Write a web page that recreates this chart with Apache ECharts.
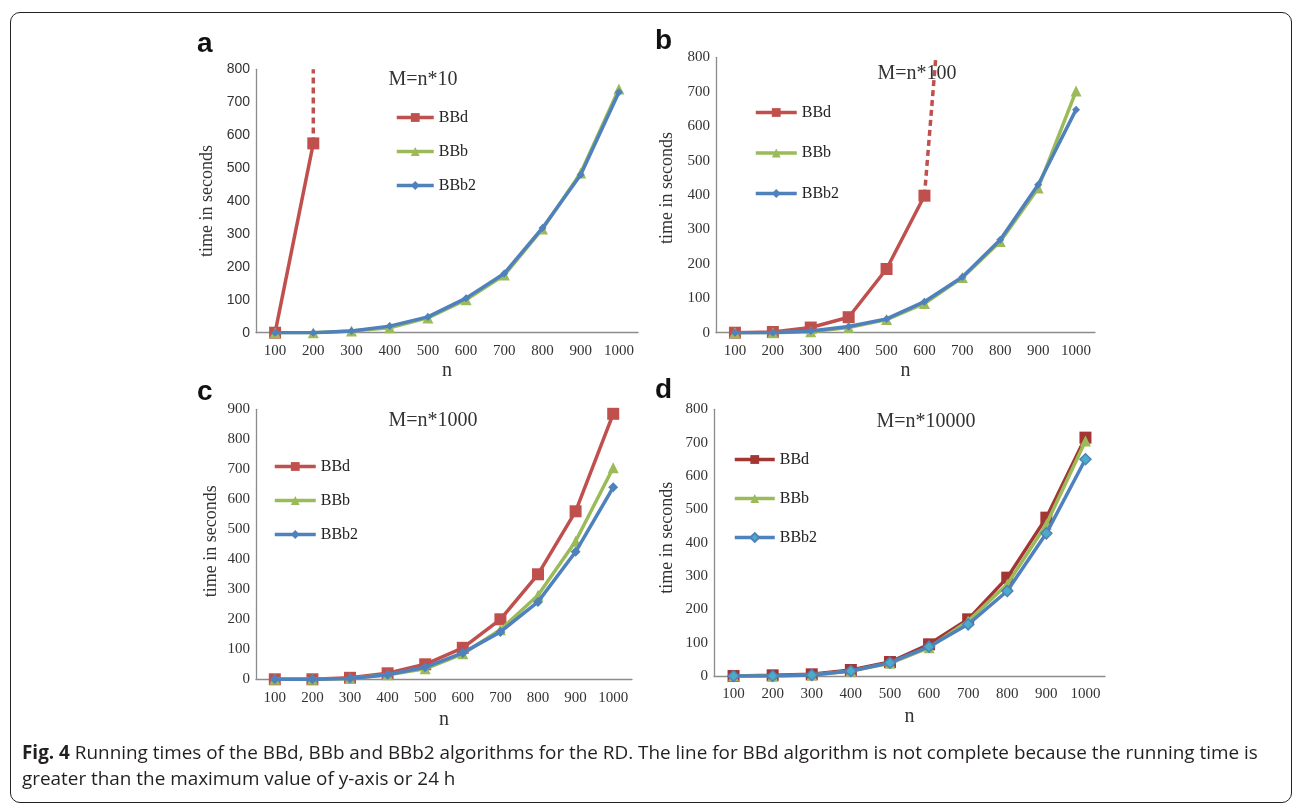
<!DOCTYPE html>
<html>
<head>
<meta charset="utf-8">
<script src="https://cdn.jsdelivr.net/npm/echarts@6/dist/echarts.min.js"></script>
<style>
  html, body { margin: 0; padding: 0; background: #fff; }
  body { width: 1295px; height: 805px; position: relative; overflow: hidden; }
  .panel { position: absolute; left: 0; top: 0; width: 1295px; height: 805px; }
  #frame { position: absolute; left: 10px; top: 12px; width: 1280px; height: 789px; border: 1.5px solid #222; border-radius: 10px; }
  #caption { position: absolute; left: 22px; top: 739px; width: 1262px; font-family: "Open Sans", "Noto Sans", sans-serif; font-size: 18.9px; line-height: 26px; color: #231f20; white-space: nowrap; }
  #caption b { font-weight: 700; }
</style>
</head>
<body>
<div id="frame"></div>
<div id="pa" class="panel"></div>
<div id="pb" class="panel"></div>
<div id="pc" class="panel"></div>
<div id="pd" class="panel"></div>
<div id="caption"><b>Fig. 4</b> Running times of the BBd, BBb and BBb2 algorithms for the RD. The line for BBd algorithm is not complete because the running time is<br>greater than the maximum value of y-axis or 24 h</div>
<script>
// ---- data ----
const nValues = ['100', '200', '300', '400', '500', '600', '700', '800', '900', '1000'];
const seriesNames = ['BBd', 'BBb', 'BBb2'];

// Panel a: M=n*10
const aBBd  = [0, 575, null, null, null, null, null, null, null, null];
const aBBb  = [0, 0, 5, 15, 45, 100, 175, 315, 485, 740];
const aBBb2 = [0, 0, 5, 20, 48, 105, 180, 318, 480, 730];
const aBBdBeyond = [[200, 575], [200, 800]];

// Panel b: M=n*100
const bBBd  = [0, 2, 15, 45, 185, 398, null, null, null, null];
const bBBb  = [0, 0, 3, 15, 38, 85, 160, 265, 420, 702];
const bBBb2 = [0, 0, 5, 18, 40, 90, 162, 270, 430, 648];
const bBBdBeyond = [[600, 398], [630, 800]];

// Panel c: M=n*1000
const cBBd  = [0, 0, 5, 20, 50, 105, 200, 350, 560, 885];
const cBBb  = [0, 0, 3, 15, 35, 85, 165, 280, 460, 705];
const cBBb2 = [0, 0, 3, 15, 40, 88, 158, 258, 425, 640];

// Panel d: M=n*10000
const dBBd  = [0, 2, 5, 18, 42, 95, 170, 295, 475, 715];
const dBBb  = [0, 0, 3, 15, 38, 85, 165, 275, 455, 705];
const dBBb2 = [0, 0, 3, 15, 40, 88, 155, 255, 428, 650];

const panelTitles = ['M=n*10', 'M=n*100', 'M=n*1000', 'M=n*10000'];
const panelLetters = ['a', 'b', 'c', 'd'];
const yMaxes = [800, 800, 900, 800];
const yInterval = 100;

// ---- styles ----
const RED = '#C0504D', RED_D = '#A33532', GREEN = '#9BBB59', BLUE = '#4F81BD', CYAN = '#4BACC6';
const SERIF = '"Liberation Serif", "DejaVu Serif", serif';
const SANS = '"Liberation Sans", Arial, sans-serif';

function build(p) {
  const series = [];
  const styles = [
    { color: p.redColor, symbol: 'rect', size: 12 },
    { color: GREEN, symbol: 'triangle', size: 11 },
    { color: BLUE, symbol: 'diamond', size: p.diamondSize, fill: p.diamondFill }
  ];
  p.data.forEach((d, i) => {
    const s = styles[i];
    series.push({
      name: seriesNames[i], type: 'line', data: d, xAxisIndex: 0, yAxisIndex: 0,
      symbol: s.symbol, symbolSize: s.size, showAllSymbol: true, connectNulls: false,
      lineStyle: { color: s.color, width: 3.5 },
      itemStyle: { color: s.fill || s.color, borderColor: s.color, borderWidth: s.fill ? 1.5 : 0 },
      z: 2 + i, animation: false
    });
  });
  if (p.beyond) {
    series.push({
      name: 'BBd beyond', type: 'line', data: p.beyond, xAxisIndex: 1, yAxisIndex: 0,
      symbol: 'none', lineStyle: { color: RED, width: 3.5, type: [6, 4] }, z: 1, animation: false
    });
  }
  return {
    animation: false,
    title: [
      { text: p.letter, left: p.letterX, top: p.letterY, padding: 0, textStyle: { fontFamily: SANS, fontWeight: 'bold', fontSize: 28, color: '#111' } },
      { text: p.title, left: p.titleX, top: p.titleY, padding: 0, textAlign: 'center', textStyle: { fontFamily: SERIF, fontWeight: 'normal', fontSize: 20, color: '#333' } }
    ],
    legend: {
      data: seriesNames, orient: 'vertical', left: p.legX, top: p.legY, padding: 0,
      itemWidth: p.legW, itemHeight: 11, itemGap: p.legGap, selectedMode: false,
      lineStyle: { width: 3.5 },
      textStyle: { fontFamily: SERIF, fontSize: 16, color: '#222' }
    },
    grid: { left: p.grid[0], top: p.grid[1], width: p.grid[2], height: p.grid[3] },
    xAxis: [
      {
        type: 'category', data: nValues, boundaryGap: true,
        name: 'n', nameLocation: 'middle', nameGap: p.xNameGap,
        nameTextStyle: { fontFamily: SERIF, fontSize: 20, color: '#333' },
        axisLine: { lineStyle: { color: '#8c8c8c', width: 1.3 } }, axisTick: { show: false },
        axisLabel: { fontFamily: SERIF, fontSize: 15, color: '#333', margin: 11, interval: 0 },
        splitLine: { show: false }
      },
      { type: 'value', min: 50, max: 1050, show: false, splitLine: { show: false } }
    ],
    yAxis: {
      type: 'value', min: 0, max: p.yMax, interval: yInterval,
      name: 'time in seconds', nameLocation: 'middle', nameGap: p.yNameGap,
      nameTextStyle: { fontFamily: SERIF, fontSize: 18, color: '#333', padding: p.yNamePad },
      axisLine: { show: true, lineStyle: { color: '#8c8c8c', width: 1.3 } }, axisTick: { show: false },
      axisLabel: { fontFamily: p.yFont, fontSize: p.yFontSize, color: '#333', margin: 6 },
      splitLine: { show: false }
    },
    series: series
  };
}

const panels = [
  { id: 'pa', letter: panelLetters[0], title: panelTitles[0], letterX: 197, letterY: 30, titleX: 423, titleY: 70,
    grid: [256, 69.3, 382, 263.4], yMax: yMaxes[0], yFont: SANS, yFontSize: 14, yNameGap: 40, yNamePad: [0, 0, 0, 0], xNameGap: 28,
    legX: 395, legY: 109.5, legW: 37, legGap: 18, redColor: RED, diamondSize: 8,
    data: [aBBd, aBBb, aBBb2], beyond: aBBdBeyond },
  { id: 'pb', letter: panelLetters[1], title: panelTitles[1], letterX: 655, letterY: 27, titleX: 917, titleY: 64,
    grid: [716, 57.3, 379, 275.4], yMax: yMaxes[1], yFont: SERIF, yFontSize: 15, yNameGap: 40, yNamePad: [0, 0, 0, 14], xNameGap: 28,
    legX: 754, legY: 104.5, legW: 41, legGap: 24.5, redColor: RED, diamondSize: 8,
    data: [bBBd, bBBb, bBBb2], beyond: bBBdBeyond },
  { id: 'pc', letter: panelLetters[2], title: panelTitles[2], letterX: 197, letterY: 378, titleX: 433, titleY: 411,
    grid: [256, 409.3, 376, 270], yMax: yMaxes[2], yFont: SERIF, yFontSize: 15, yNameGap: 36, yNamePad: [0, 0, 0, 6], xNameGap: 30,
    legX: 273, legY: 458.5, legW: 41, legGap: 18, redColor: RED, diamondSize: 10,
    data: [cBBd, cBBb, cBBb2] },
  { id: 'pd', letter: panelLetters[3], title: panelTitles[3], letterX: 655, letterY: 376, titleX: 926, titleY: 412,
    grid: [714, 409.3, 391, 266.7], yMax: yMaxes[3], yFont: SERIF, yFontSize: 15, yNameGap: 38, yNamePad: [0, 0, 0, 10], xNameGap: 31,
    legX: 733, legY: 451.5, legW: 40, legGap: 23, redColor: RED_D, diamondSize: 11, diamondFill: CYAN,
    data: [dBBd, dBBb, dBBb2] }
];

panels.forEach(p => {
  const chart = echarts.init(document.getElementById(p.id), null, { renderer: 'canvas' });
  chart.setOption(build(p));
});
</script>
</body>
</html>
